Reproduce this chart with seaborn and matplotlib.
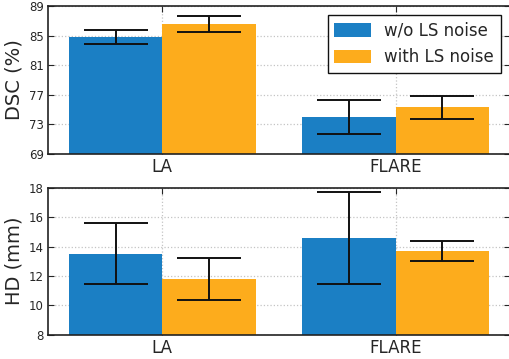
import matplotlib
matplotlib.use("Agg")
import matplotlib.pyplot as plt
import pandas as pd
import seaborn as sns

datasets = ["LA", "FLARE"]
settings = ["w/o LS noise", "with LS noise"]

dsc_mean = {"w/o LS noise": [84.8, 74.0], "with LS noise": [86.6, 75.3]}
dsc_std = {"w/o LS noise": [0.95, 2.35], "with LS noise": [1.05, 1.55]}
hd_mean = {"w/o LS noise": [13.5, 14.57], "with LS noise": [11.8, 13.7]}
hd_std = {"w/o LS noise": [2.07, 3.12], "with LS noise": [1.42, 0.68]}

colors = ["#1b7fc4", "#fdac1c"]


def to_frame(means, stds):
    rows = []
    for s in settings:
        for d, m, e in zip(datasets, means[s], stds[s]):
            rows.append({"dataset": d, "setting": s, "value": m, "err": e})
    return pd.DataFrame(rows)


def draw(ax, df, ylabel, ylim, yticks, legend=False):
    sns.barplot(
        data=df, x="dataset", y="value", hue="setting",
        order=datasets, hue_order=settings, palette=colors,
        errorbar=None, width=0.8, gap=0, saturation=1,
        linewidth=0, ax=ax, legend=legend,
    )
    # error bars on each bar, in hue order
    for cont, s in zip(ax.containers, settings):
        sub = df[df["setting"] == s].set_index("dataset").loc[datasets]
        xs = [p.get_x() + p.get_width() / 2 for p in cont.patches]
        ax.errorbar(xs, sub["value"], yerr=sub["err"], fmt="none",
                    ecolor="#111111", elinewidth=1.4, capsize=23,
                    capthick=1.4, zorder=5)
    ax.set_ylim(*ylim)
    ax.set_yticks(yticks)
    ax.set_xlim(-0.49, 1.49)
    ax.set_xlabel("")
    ax.set_ylabel(ylabel, fontsize=14)
    ax.grid(True, linestyle=":", color="#c4c4c4", linewidth=0.9)
    ax.set_axisbelow(True)
    ax.tick_params(axis="y", direction="in", left=True, right=True,
                   labelsize=8.5, length=4, pad=3)
    ax.tick_params(axis="x", direction="in", top=True, bottom=True,
                   labelsize=12, length=4, pad=3)
    for sp in ax.spines.values():
        sp.set_color("#222222")
        sp.set_linewidth(1.2)


sns.set_style("white")
plt.rcParams["font.family"] = ["DejaVu Sans"]

fig = plt.figure(figsize=(5.09, 3.59), dpi=100)
ax1 = fig.add_axes([0.0943, 0.571, 0.9077, 0.412])
ax2 = fig.add_axes([0.0943, 0.0677, 0.9077, 0.4093])

draw(ax1, to_frame(dsc_mean, dsc_std), "DSC (%)", (69, 89),
     [69, 73, 77, 81, 85, 89], legend=True)
draw(ax2, to_frame(hd_mean, hd_std), "HD (mm)", (8, 18),
     [8, 10, 12, 14, 16, 18])

leg = ax1.legend(loc="upper right", fontsize=12, fancybox=False,
                 edgecolor="#111111", framealpha=1, handlelength=2.2,
                 handleheight=0.9, borderaxespad=0.55)
leg.get_frame().set_linewidth(1.0)

fig.savefig("out.png", dpi=100)
